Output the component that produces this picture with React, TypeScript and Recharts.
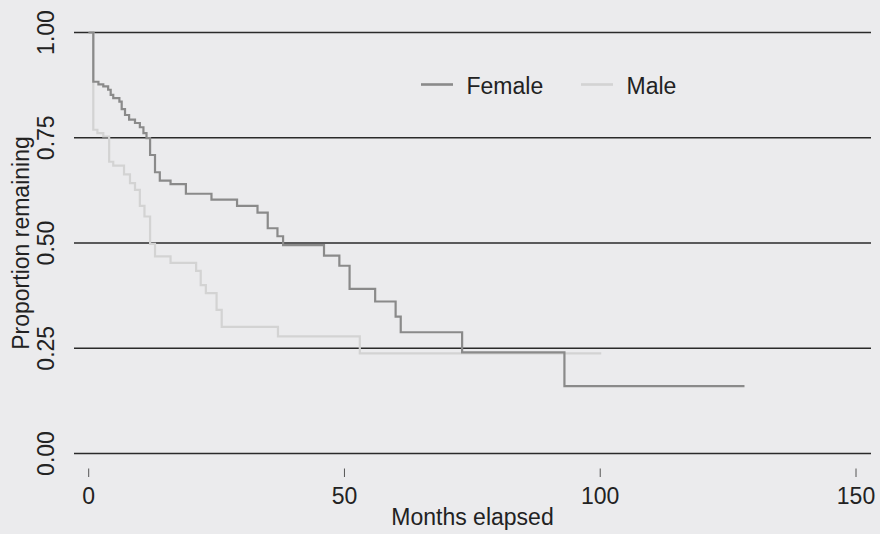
import React from 'react';
import { LineChart, Line, XAxis, YAxis, CartesianGrid, Legend } from 'recharts';

// Kaplan-Meier style step estimates
const femaleMonths = [0, 0.9, 1.9, 2.85, 3.8, 4.3, 4.8, 6.0, 6.45, 7.1, 7.9, 9.05, 10.0, 10.7, 11.3, 12.0, 12.96, 13.9, 16.0, 19.0, 24.0, 29.0, 33.0, 35.0, 36.9, 38.0, 46.0, 49.0, 51.0, 56.0, 60.0, 61.0, 73.0, 93.0, 128.2];
const femaleSurvival = [1.0, 0.883, 0.877, 0.872, 0.864, 0.852, 0.844, 0.836, 0.818, 0.804, 0.793, 0.785, 0.775, 0.761, 0.749, 0.709, 0.668, 0.648, 0.64, 0.617, 0.603, 0.588, 0.572, 0.535, 0.516, 0.495, 0.47, 0.446, 0.391, 0.361, 0.325, 0.288, 0.24, 0.16, 0.16];

const maleMonths = [0, 0.9, 1.7, 2.85, 4.0, 4.8, 6.9, 8.07, 9.05, 10.0, 10.9, 12.0, 12.96, 16.0, 21.0, 21.9, 22.9, 25.0, 26.0, 37.0, 53.0, 100.2];
const maleSurvival = [1.0, 0.769, 0.761, 0.753, 0.693, 0.684, 0.663, 0.642, 0.626, 0.588, 0.563, 0.498, 0.468, 0.453, 0.434, 0.4, 0.381, 0.341, 0.301, 0.278, 0.238, 0.238];

const xTicks = [0, 50, 100, 150];
const yTicks = [0, 0.25, 0.5, 0.75, 1];
const yTickLabels = ['0.00', '0.25', '0.50', '0.75', '1.00'];
const seriesNames = ['Female', 'Male'];
const seriesColors = ['#8a8a8a', '#d3d3d3'];

const femaleData = femaleMonths.map((t, i) => ({ t, s: femaleSurvival[i] }));
const maleData = maleMonths.map((t, i) => ({ t, s: maleSurvival[i] }));

const FONT = '"Liberation Sans", Arial, Helvetica, sans-serif';
const TEXT = '#222222';
const BG = '#EBEBED';

const XTick = (props: any) => {
  const { x, y, payload } = props;
  return (
    <g>
      <line x1={x} x2={x} y1={y + 15} y2={y + 23.5} stroke="#555" strokeWidth={1} />
      <text x={x} y={y + 50.5} textAnchor="middle" fontSize={23} fontFamily={FONT} fill={TEXT}>
        {payload.value}
      </text>
    </g>
  );
};

const YTick = (props: any) => {
  const { x, y, payload } = props;
  const idx = yTicks.indexOf(payload.value);
  const label = idx >= 0 ? yTickLabels[idx] : String(payload.value);
  const tx = x - 20;
  return (
    <text
      x={tx}
      y={y}
      transform={`rotate(-90, ${tx}, ${y})`}
      textAnchor="middle"
      fontSize={23}
      fontFamily={FONT}
      fill={TEXT}
    >
      {label}
    </text>
  );
};

const LegendContent = () => (
  <svg width={880} height={110} style={{ display: 'block' }}>
    <line x1={421} x2={453} y1={84.5} y2={84.5} stroke={seriesColors[0]} strokeWidth={2.6} />
    <text x={466.5} y={94} fontSize={23} fontFamily={FONT} fill={TEXT}>{seriesNames[0]}</text>
    <line x1={581} x2={613} y1={84.5} y2={84.5} stroke={seriesColors[1]} strokeWidth={2.6} />
    <text x={626.5} y={94} fontSize={23} fontFamily={FONT} fill={TEXT}>{seriesNames[1]}</text>
  </svg>
);

export default function App() {
  return (
    <div style={{ position: 'absolute', left: 0, top: 0, width: 880, height: 534, background: BG }}>
      <LineChart width={880} height={534} margin={{ top: 32.5, right: 9, bottom: 20.5, left: 0 }}>
        <CartesianGrid vertical={false} stroke="#2a2a2a" strokeWidth={1.5} />
        <XAxis
          type="number"
          dataKey="t"
          domain={[0, 150]}
          ticks={xTicks}
          allowDataOverflow={false}
          padding={{ left: 14.7, right: 15 }}
          axisLine={false}
          tickLine={false}
          tickSize={0}
          tickMargin={0}
          height={60}
          tick={<XTick />}
          interval={0}
          label={{
            content: (p: any) => {
              const vb = p.viewBox || { x: 74, y: 453.5, width: 797 };
              return (
                <text x={vb.x + vb.width / 2} y={vb.y + 71.5} textAnchor="middle" fontSize={23} fontFamily={FONT} fill={TEXT}>
                  Months elapsed
                </text>
              );
            },
          }}
        />
        <YAxis
          type="number"
          domain={[0, 1]}
          ticks={yTicks}
          width={74}
          axisLine={false}
          tickLine={false}
          tickSize={0}
          tickMargin={0}
          tick={<YTick />}
          interval={0}
          label={{
            content: (p: any) => {
              const vb = p.viewBox || { x: 0, y: 32.5, height: 421 };
              const lx = vb.x + 29;
              const ly = vb.y + vb.height / 2;
              return (
                <text x={lx} y={ly} transform={`rotate(-90, ${lx}, ${ly})`} textAnchor="middle" fontSize={23} fontFamily={FONT} fill={TEXT}>
                  Proportion remaining
                </text>
              );
            },
          }}
        />
        <Legend
          layout="horizontal"
          verticalAlign="middle"
          align="center"
          wrapperStyle={{ left: 0, top: 0, width: 880, height: 110 }}
          content={<LegendContent />}
        />
        <Line
          data={maleData}
          dataKey="s"
          name={seriesNames[1]}
          type="stepAfter"
          stroke={seriesColors[1]}
          strokeWidth={2.2}
          dot={false}
          activeDot={false}
          isAnimationActive={false}
        />
        <Line
          data={femaleData}
          dataKey="s"
          name={seriesNames[0]}
          type="stepAfter"
          stroke={seriesColors[0]}
          strokeWidth={2.2}
          dot={false}
          activeDot={false}
          isAnimationActive={false}
        />
      </LineChart>
    </div>
  );
}
